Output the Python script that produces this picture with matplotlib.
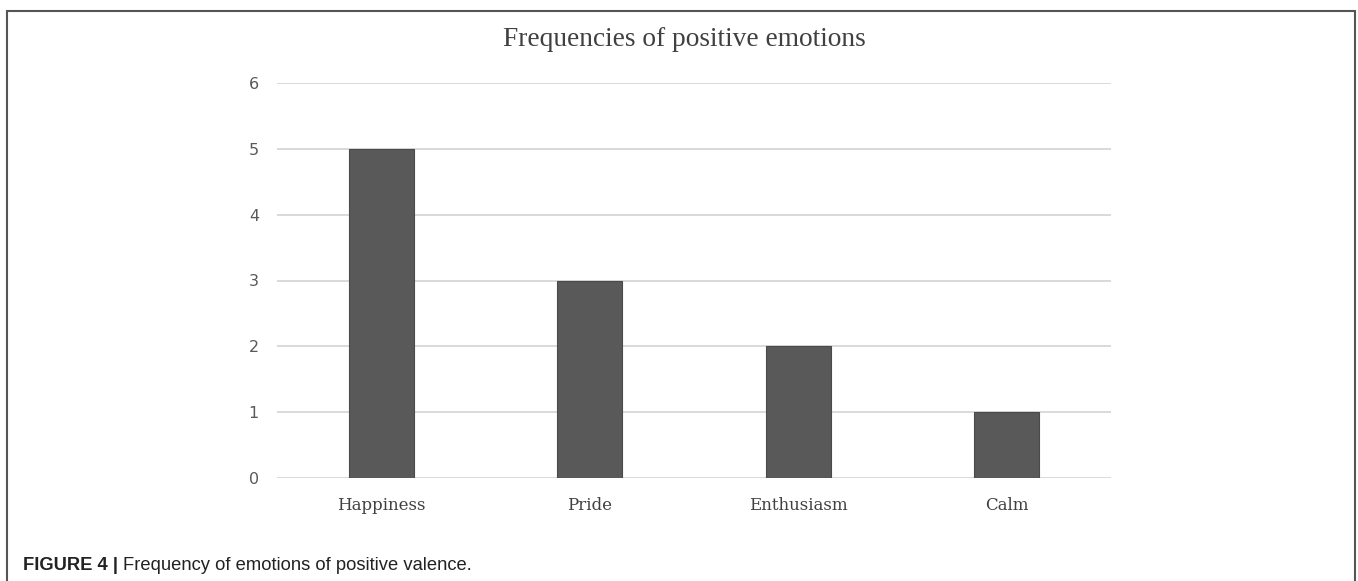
import matplotlib
matplotlib.use("Agg")
import matplotlib.pyplot as plt  # noqa: E402
from matplotlib.patches import Rectangle  # noqa: E402
import numpy as np  # noqa: E402

categories = ["Happiness", "Pride", "Enthusiasm", "Calm"]
counts = [5, 3, 2, 1]
yticks = [0, 1, 2, 3, 4, 5, 6]

W, H = 1358, 581
BAR, GRID, TXT = "#595959", "#d9d9d9", "#595959"

fig = plt.figure(figsize=(W / 100, H / 100), dpi=100)
ax = fig.add_axes([277 / W, 103 / H, (1111 - 277) / W, (478 - 83) / H])

xs = np.arange(len(categories))
ax.bar(xs, counts, width=0.313, color=BAR, edgecolor="#4a4a4a", linewidth=0.8, zorder=3)
ax.set_xlim(-0.5, len(categories) - 0.5)
ax.set_ylim(0, 6)
ax.set_yticks(yticks)
ax.set_yticklabels([str(t) for t in yticks], family="DejaVu Sans", fontsize=11.5, color=TXT)
ax.set_xticks(xs)
ax.set_xticklabels(categories, family="DejaVu Serif", fontsize=12, color="#404040")
ax.tick_params(length=0, axis="y", pad=13)
ax.tick_params(length=0, axis="x", pad=14)
ax.grid(axis="y", color=GRID, lw=1.4, zorder=0)
ax.set_axisbelow(True)
for s in ax.spines.values():
    s.set_visible(False)

fig.text(684 / W, 1 - 40 / H, "Frequencies of positive emotions", family="Liberation Serif",
         fontsize=19.7, color="#404040", ha="center", va="center")

# outer frame, open at the bottom
fig.patches.append(Rectangle((7 / W, -0.1), (1355 - 7) / W, 1.1 - 11 / H,
                             transform=fig.transFigure, fill=False, edgecolor="#555555",
                             lw=1.5, clip_on=False))

# caption: bold label then plain text
lab = fig.text(23 / W, 1 - 566 / H, "FIGURE 4 | ", family="Liberation Sans", fontsize=13.2,
               fontweight="bold", color="#222222", ha="left", va="center")
fig.canvas.draw()
bb = lab.get_window_extent()
fig.text(bb.x1 / W, 1 - 566 / H, "Frequency of emotions of positive valence.",
         family="Liberation Sans", fontsize=13.2, color="#222222", ha="left", va="center")

fig.savefig("out.png", dpi=100)
